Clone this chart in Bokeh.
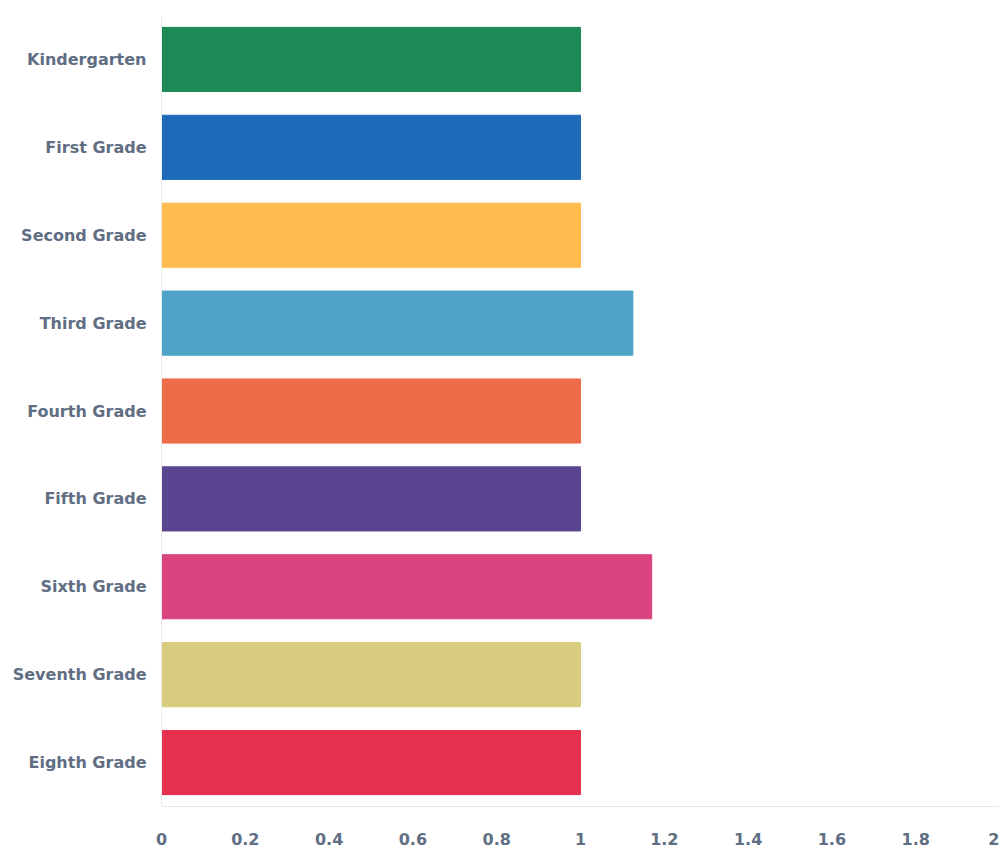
from bokeh.plotting import figure
from bokeh.models import ColumnDataSource, FixedTicker
from bokeh.embed import file_html
from bokeh.resources import INLINE

grades = ["Kindergarten", "First Grade", "Second Grade", "Third Grade", "Fourth Grade",
          "Fifth Grade", "Sixth Grade", "Seventh Grade", "Eighth Grade"]
values = [1.0, 1.0, 1.0, 1.125, 1.0, 1.0, 1.17, 1.0, 1.0]
colors = ["#1d8a56", "#1f6ab8", "#ffbb4e", "#4ea3c6", "#ee6c48",
          "#5a4690", "#d9447f", "#d8cc7e", "#e5304f"]
x_ticks = [0, 0.2, 0.4, 0.6, 0.8, 1, 1.2, 1.4, 1.6, 1.8, 2]

src = ColumnDataSource(dict(grade=grades, value=values, color=colors))

p = figure(width=999, height=850, y_range=list(reversed(grades)), x_range=(0, 2),
           output_backend="svg", toolbar_location=None,
           min_border_left=161, min_border_right=0, min_border_top=15, min_border_bottom=44)
p.hbar(y="grade", right="value", left=0, height=0.73, color="color", source=src)

p.outline_line_color = None
p.xgrid.grid_line_color = None
p.ygrid.grid_line_color = None

p.xaxis.ticker = FixedTicker(ticks=x_ticks)
p.xaxis.major_label_overrides = {0: "0", 1: "1", 2: "2"}
p.xaxis.axis_line_color = "#e8e8e8"
p.xaxis.major_tick_line_color = None
p.xaxis.minor_tick_line_color = None
p.xaxis.major_label_standoff = 20
p.yaxis.axis_line_color = "#eeeeee"
p.yaxis.major_tick_line_color = None
p.yaxis.minor_tick_line_color = None
p.yaxis.major_label_standoff = 9
for ax in (p.xaxis, p.yaxis):
    ax.major_label_text_font = "DejaVu Sans"
    ax.major_label_text_font_style = "bold"
    ax.major_label_text_font_size = "16px"
    ax.major_label_text_color = "#5f6e83"

open("out.html", "w").write(file_html(p, INLINE))
